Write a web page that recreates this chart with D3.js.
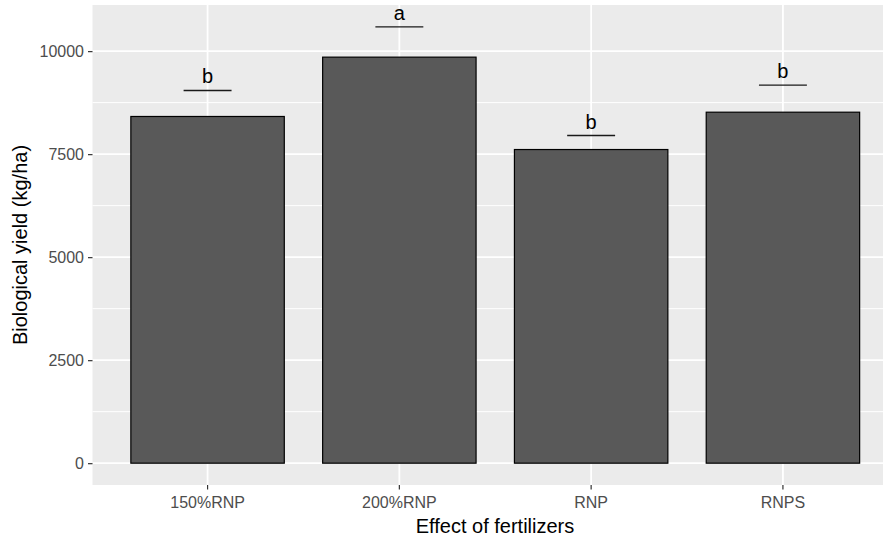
<!DOCTYPE html>
<html>
<head>
<meta charset="utf-8">
<script src="https://cdn.jsdelivr.net/npm/d3@7"></script>
<style>
  html, body { margin: 0; padding: 0; background: #ffffff; }
  svg { display: block; font-family: "Liberation Sans", Arial, sans-serif; }
</style>
</head>
<body>
<svg id="chart" width="883" height="537"></svg>
<script>
// ---- data ----
const categories = ["150%RNP", "200%RNP", "RNP", "RNPS"];
const yieldMeans = [8414, 9854, 7612, 8518];
const errorTops = [9045, 10590, 7952, 9174];
const groupLetters = ["b", "a", "b", "b"];
const yTicks = [0, 2500, 5000, 7500, 10000];
const yMinorTicks = [1250, 3750, 6250, 8750];
const xTitle = "Effect of fertilizers";
const yTitle = "Biological yield (kg/ha)";

// ---- layout ----
const W = 883, H = 537;
const panel = { left: 92.5, top: 5, bottom: 485, right: 898 };

const svg = d3.select("#chart");

const x = d3.scaleBand()
  .domain(categories)
  .range([panel.left, panel.right])
  .paddingInner(0.2)
  .paddingOuter(0.2);

const yMax = d3.max(errorTops);
const ex = 0.05 * yMax;
const y = d3.scaleLinear()
  .domain([-ex, yMax + ex])
  .range([panel.bottom, panel.top]);

// panel background
svg.append("rect")
  .attr("x", panel.left).attr("y", panel.top)
  .attr("width", panel.right - panel.left)
  .attr("height", panel.bottom - panel.top)
  .attr("fill", "#EBEBEB");

const grid = svg.append("g");
grid.selectAll("line.minor").data(yMinorTicks).enter().append("line")
  .attr("x1", panel.left).attr("x2", panel.right)
  .attr("y1", d => y(d)).attr("y2", d => y(d))
  .attr("stroke", "#ffffff").attr("stroke-width", 1);
grid.selectAll("line.majory").data(yTicks).enter().append("line")
  .attr("x1", panel.left).attr("x2", panel.right)
  .attr("y1", d => y(d)).attr("y2", d => y(d))
  .attr("stroke", "#ffffff").attr("stroke-width", 1.8);
grid.selectAll("line.majorx").data(categories).enter().append("line")
  .attr("x1", d => x(d) + x.bandwidth() / 2).attr("x2", d => x(d) + x.bandwidth() / 2)
  .attr("y1", panel.top).attr("y2", panel.bottom)
  .attr("stroke", "#ffffff").attr("stroke-width", 1.8);

// bars
const data = categories.map((c, i) => ({ c, v: yieldMeans[i], e: errorTops[i], l: groupLetters[i] }));
svg.append("g").selectAll("rect").data(data).enter().append("rect")
  .attr("x", d => x(d.c))
  .attr("y", d => y(d.v))
  .attr("width", x.bandwidth())
  .attr("height", d => y(0) - y(d.v))
  .attr("fill", "#595959")
  .attr("stroke", "#000000")
  .attr("stroke-width", 1.2);

// error lines (top whisker)
const halfW = x.step() * 0.125;
svg.append("g").selectAll("line").data(data).enter().append("line")
  .attr("x1", d => x(d.c) + x.bandwidth() / 2 - halfW)
  .attr("x2", d => x(d.c) + x.bandwidth() / 2 + halfW)
  .attr("y1", d => y(d.e)).attr("y2", d => y(d.e))
  .attr("stroke", "#1a1a1a").attr("stroke-width", 1.3);

// letters
svg.append("g").selectAll("text").data(data).enter().append("text")
  .attr("x", d => x(d.c) + x.bandwidth() / 2)
  .attr("y", d => y(d.e) - 7)
  .attr("text-anchor", "middle")
  .attr("font-size", 20)
  .attr("fill", "#000000")
  .text(d => d.l);

// y axis
const yAxis = svg.append("g")
  .attr("transform", `translate(${panel.left},0)`)
  .call(d3.axisLeft(y).tickValues(yTicks).tickSize(4.5).tickPadding(4).tickFormat(d3.format("d")));
yAxis.select(".domain").remove();
yAxis.selectAll(".tick line").attr("stroke", "#333333").attr("stroke-width", 1.2);
yAxis.selectAll(".tick text").attr("fill", "#4D4D4D").attr("font-size", 16)
  .attr("font-family", "Liberation Sans, Arial, sans-serif");

// x axis
const xAxis = svg.append("g")
  .attr("transform", `translate(0,${panel.bottom})`)
  .call(d3.axisBottom(x).tickSize(4.5).tickPadding(7));
xAxis.select(".domain").remove();
xAxis.selectAll(".tick line").attr("stroke", "#333333").attr("stroke-width", 1.2);
xAxis.selectAll(".tick text").attr("fill", "#4D4D4D").attr("font-size", 16)
  .attr("font-family", "Liberation Sans, Arial, sans-serif");

// axis titles
svg.append("text")
  .attr("x", 495)
  .attr("y", 533)
  .attr("text-anchor", "middle")
  .attr("font-size", 20)
  .attr("fill", "#000000")
  .text(xTitle);

svg.append("text")
  .attr("transform", `translate(27,${(panel.top + panel.bottom) / 2}) rotate(-90)`)
  .attr("text-anchor", "middle")
  .attr("font-size", 20)
  .attr("fill", "#000000")
  .text(yTitle);
</script>
</body>
</html>
